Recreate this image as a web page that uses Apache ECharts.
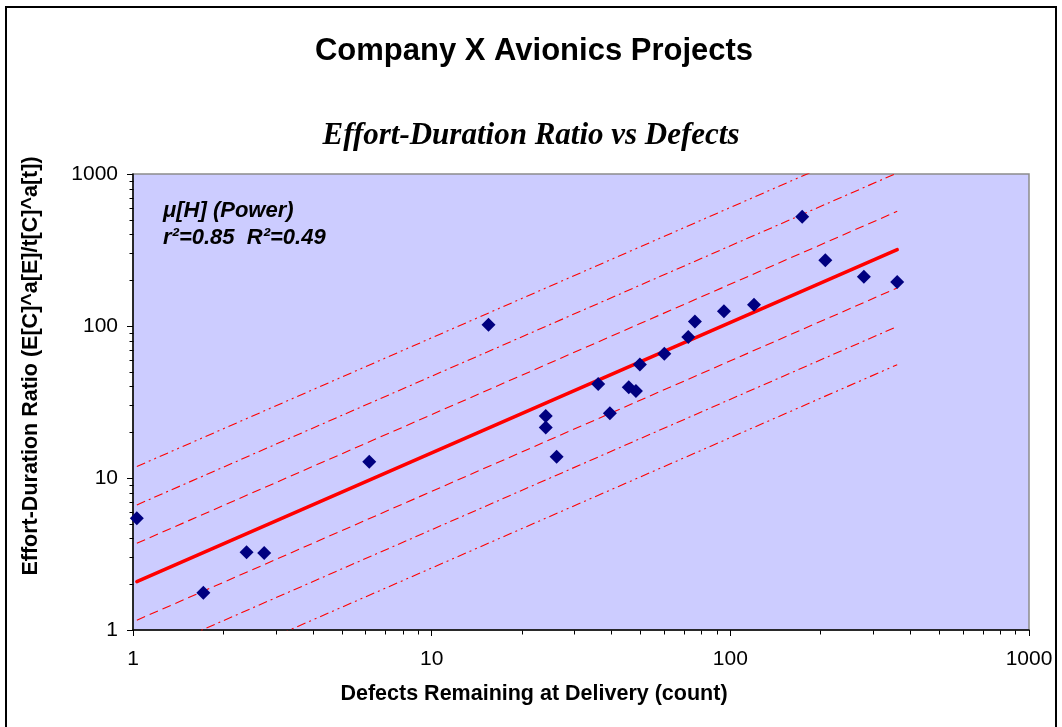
<!DOCTYPE html>
<html>
<head>
<meta charset="utf-8">
<script src="https://cdn.jsdelivr.net/npm/echarts@6/dist/echarts.min.js"></script>
<style>
  html, body { margin: 0; padding: 0; background: #ffffff; }
  #chart { width: 1062px; height: 727px; }
</style>
</head>
<body>
<div id="chart"></div>
<script>
// Defects remaining at delivery (count) and effort-duration ratio per project
const defects = [1.03, 1.72, 2.40, 2.75, 6.18, 15.5, 24.1, 24.1, 26.2, 36.1, 39.5, 45.7,
                 48.3, 49.8, 60.1, 72.3, 76.1, 95.2, 120, 174, 208, 280, 362];
const effortRatio = [5.44, 1.76, 3.25, 3.21, 12.8, 102, 25.6, 21.5, 13.8, 41.6, 26.7, 39.6,
                     37.4, 55.8, 65.6, 84.5, 107, 125, 138, 523, 271, 211, 195];

// Power trend line and its spread bands: values at the first and last defect count
const fitX = [1.03, 362];
const fitMean = [2.08, 318];
const band1Upper = [3.72, 568];
const band1Lower = [1.16, 178];
const band2Upper = [6.65, 1016];
const band2Lower = [0.65, 99.3];
const band3Upper = [11.9, 1815];
const band3Lower = [0.364, 55.6];

// Axis ticks (both axes are log10, 1 .. 1000)
const majorTicks = [1, 10, 100, 1000];
const tickLabels = ['1', '10', '100', '1000'];
const minorTicks = [2, 3, 4, 5, 6, 7, 8, 9, 20, 30, 40, 50, 60, 70, 80, 90,
                    200, 300, 400, 500, 600, 700, 800, 900];

const SANS = '"Liberation Sans", Arial, sans-serif';
const SERIF = '"Liberation Serif", "Times New Roman", serif';
const RED = '#ff0000';

const pairs = (xs, ys) => xs.map((x, i) => [x, ys[i]]);

function fitLine(name, ys, width, dash) {
  return {
    name: name,
    type: 'line',
    data: pairs(fitX, ys),
    showSymbol: false,
    symbol: 'none',
    clip: true,
    silent: true,
    z: width > 2 ? 4 : 3,
    lineStyle: { color: RED, width: width, opacity: 1, type: dash, cap: width > 2 ? 'round' : 'butt' }
  };
}

const DASH = [9, 5];
const DASH_DOT = [9, 4, 2, 4];
const DASH_DOT_DOT = [9, 4, 2, 4, 2, 4];

// minor tick marks: [x, y, axis] where axis 0 = x axis, 1 = y axis
const minorTickData = minorTicks.map(v => [v, 1, 0]).concat(minorTicks.map(v => [1, v, 1]));

const chart = echarts.init(document.getElementById('chart'), null, { renderer: 'canvas' });

const axisCommon = {
  type: 'log',
  logBase: 10,
  min: 1,
  max: 1000,
  axisLine: { show: true, onZero: false, lineStyle: { color: '#000000', width: 1.5 } },
  axisTick: { show: true, inside: false, length: 6, lineStyle: { color: '#000000', width: 1 } },
  splitLine: { show: false },
  minorTick: { show: false },
  axisLabel: {
    color: '#000000',
    fontFamily: SANS,
    fontSize: 21,
    formatter: v => {
      const i = majorTicks.indexOf(Math.round(v));
      return i >= 0 ? tickLabels[i] : '';
    }
  }
};

chart.setOption({
  animation: false,
  backgroundColor: '#ffffff',
  grid: {
    left: 133, right: 33, top: 174, bottom: 97,
    show: true,
    backgroundColor: '#ccccff',
    borderColor: '#8c8c8c',
    borderWidth: 1.5
  },
  xAxis: Object.assign({}, axisCommon, {
    axisLabel: Object.assign({}, axisCommon.axisLabel, { margin: 19 })
  }),
  yAxis: Object.assign({}, axisCommon, {
    axisLabel: Object.assign({}, axisCommon.axisLabel, { margin: 15 })
  }),
  series: [
    fitLine('+3σ', band3Upper, 1.1, DASH_DOT_DOT),
    fitLine('+2σ', band2Upper, 1.1, DASH_DOT),
    fitLine('+1σ', band1Upper, 1.1, DASH),
    fitLine('-1σ', band1Lower, 1.1, DASH),
    fitLine('-2σ', band2Lower, 1.1, DASH_DOT),
    fitLine('-3σ', band3Lower, 1.1, DASH_DOT_DOT),
    fitLine('μ[H] (Power)', fitMean, 3.5, 'solid'),
    {
      name: 'Projects',
      type: 'scatter',
      data: pairs(defects, effortRatio),
      symbol: 'diamond',
      symbolSize: 14,
      itemStyle: { color: '#000080', opacity: 1 },
      z: 6
    },
    {
      name: 'minor ticks',
      type: 'custom',
      coordinateSystem: 'cartesian2d',
      data: minorTickData,
      clip: false,
      silent: true,
      z: 7,
      renderItem: function (params, api) {
        const p = api.coord([api.value(0), api.value(1)]);
        const x = Math.round(p[0]) + 0.5;
        const y = Math.round(p[1]) + 0.5;
        const shape = api.value(2) === 0
          ? { x1: x, y1: y, x2: x, y2: y + 4 }
          : { x1: x - 4, y1: y, x2: x, y2: y };
        return { type: 'line', shape: shape, style: { stroke: '#000000', lineWidth: 1 } };
      }
    }
  ],
  graphic: [
    {
      type: 'rect',
      shape: { x: 6, y: 7, width: 1050, height: 740 },
      style: { fill: 'none', stroke: '#000000', lineWidth: 2 },
      silent: true, z: 10
    },
    {
      type: 'text', x: 534, y: 51,
      style: { text: 'Company X Avionics Projects', font: 'bold 31px ' + SANS,
               fill: '#000000', align: 'center', verticalAlign: 'middle' }
    },
    {
      type: 'text', x: 531, y: 136,
      style: { text: 'Effort-Duration Ratio vs Defects', font: 'italic bold 31px ' + SERIF,
               fill: '#000000', align: 'center', verticalAlign: 'middle' }
    },
    {
      type: 'text', x: 31, y: 366, rotation: Math.PI / 2,
      style: { text: 'Effort-Duration Ratio (E[C]^a[E]/t[C]^a[t])', font: 'bold 21.5px ' + SANS,
               fill: '#000000', align: 'center', verticalAlign: 'middle' }
    },
    {
      type: 'text', x: 534, y: 694,
      style: { text: 'Defects Remaining at Delivery (count)', font: 'bold 21.5px ' + SANS,
               fill: '#000000', align: 'center', verticalAlign: 'middle' }
    },
    {
      type: 'text', x: 163, y: 197, z: 20,
      style: { text: 'μ[H] (Power)\nr²=0.85  R²=0.49', font: 'italic bold 22px ' + SANS,
               lineHeight: 27, fill: '#000000', align: 'left', verticalAlign: 'top' }
    }
  ]
});
</script>
</body>
</html>
